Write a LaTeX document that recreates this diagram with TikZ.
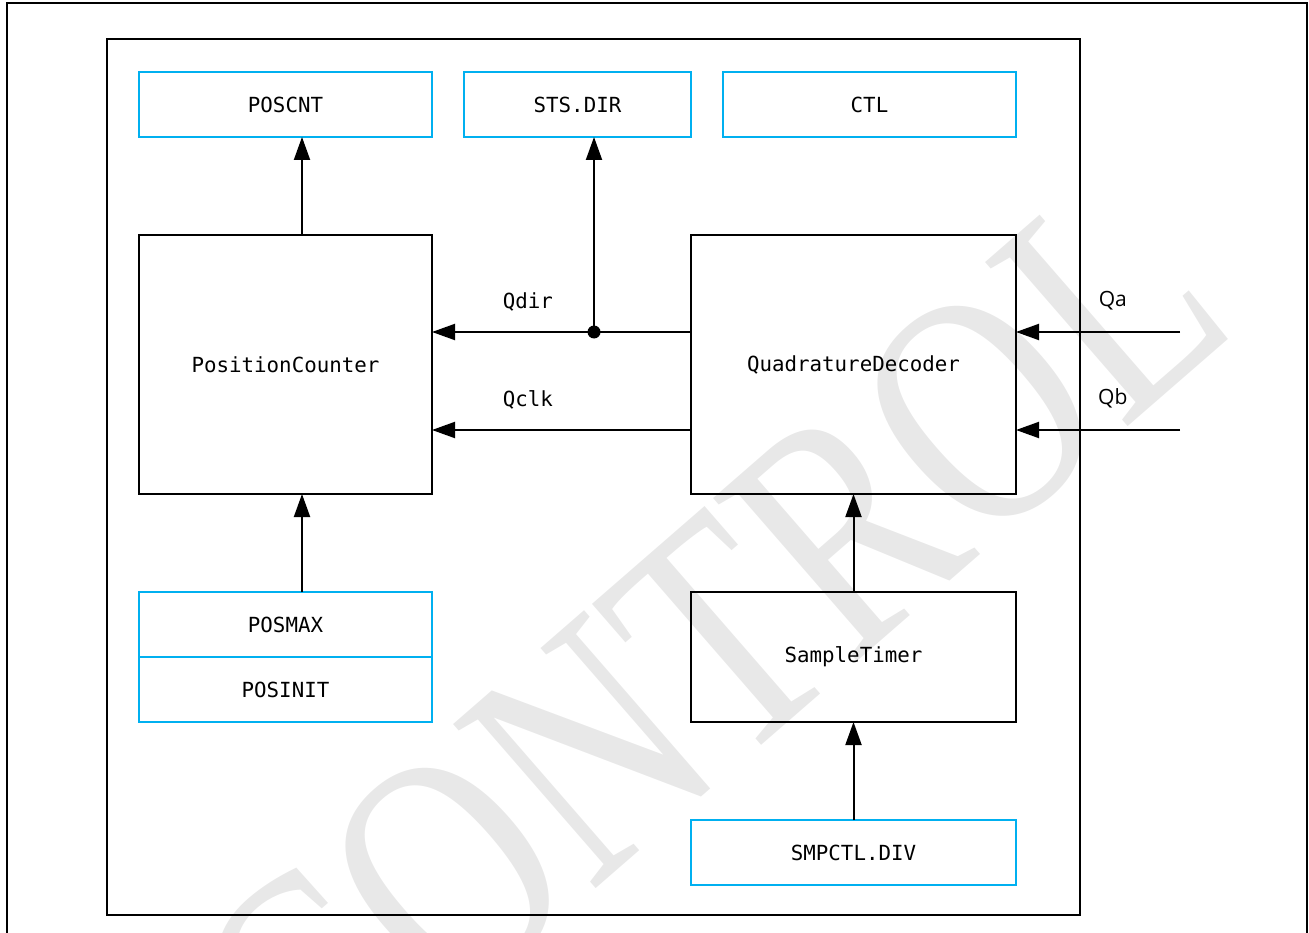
\documentclass[tikz,border=0pt]{standalone}
\usepackage{fontspec}
\setmonofont{DejaVu Sans Mono}
\newfontfamily\sigfont{Open Sans}
\newfontfamily\wmfont[FakeStretch=0.78]{Liberation Serif}
\usetikzlibrary{positioning,arrows.meta}
\definecolor{regblue}{RGB}{0,176,240}
\definecolor{wmgray}{RGB}{232,232,232}

\begin{document}
\begin{tikzpicture}[
  x=1pt, y=-1pt,
  every node/.style={font=\ttfamily\fontsize{20.8}{25}\selectfont, outer sep=0pt},
  blk/.style={draw=black, line width=2pt, inner sep=0pt},
  reg/.style={draw=regblue, line width=2pt, inner sep=0pt, minimum height=65pt},
  arr/.style={-{Triangle[length=23pt, width=16pt]}, line width=2pt, draw=black},
  dotn/.style={circle, fill=black, minimum size=13pt, inner sep=0pt},
  lbl/.style={anchor=base, inner sep=0pt},
  sig/.style={font=\sigfont\fontsize{21}{25}\selectfont},
  wm/.style={font=\wmfont\fontsize{332}{332}\selectfont, text=wmgray, rotate=41, inner sep=0pt}
]
\useasboundingbox (0,0) rectangle (1309,933);

% Watermark
\node[wm] (wmark) at (709,647) {CONTROL};

% Frames
\draw[line width=2.4pt] (7,945) -- (7,3) -- (1307,3) -- (1307,945);
\draw[line width=2pt] (107,39) rectangle (1080,915);

% Top Row: Registers
\node[reg, minimum width=293pt] (poscnt) at (285.5,104.5) {POSCNT};
\node[reg, minimum width=227pt, right=32pt of poscnt] (stsdir) {STS.DIR};
\node[reg, minimum width=293pt, right=32pt of stsdir] (ctl) {CTL};

% Middle Row: Function Blocks
\node[blk, minimum width=293pt, minimum height=259pt, below=98pt of poscnt] (pc) {PositionCounter};
\node[blk, minimum width=325pt, minimum height=259pt, anchor=north east] (qd) at (ctl.south east |- pc.north) {QuadratureDecoder};

% Bottom Rows
\node[reg, minimum width=293pt, below=98pt of pc] (posmax) {POSMAX};
\node[reg, minimum width=293pt, below=0pt of posmax] (posinit) {POSINIT};
\node[blk, minimum width=325pt, minimum height=130pt, below=98pt of qd] (st) {SampleTimer};
\node[reg, minimum width=325pt, below=98pt of st] (smpctl) {SMPCTL.DIV};

% Direction Tap
\node[dotn] (jn) at (594,332) {};

% Register Paths
\draw[arr] ([xshift=16.5pt]pc.north) -- ([xshift=16.5pt]pc.north |- poscnt.south);
\draw[arr] ([xshift=16.5pt]posmax.north) -- ([xshift=16.5pt]posmax.north |- pc.south);
\draw[arr] (jn.center) -- (jn |- stsdir.south);

% Decoder Outputs
\draw[arr] (qd.west |- jn) -- node[lbl, pos=0.63, yshift=23.5pt]{Qdir} (pc.east |- jn);
\draw[arr] ([yshift=-65.5pt]qd.west) -- node[lbl, pos=0.63, yshift=23.5pt]{Qclk} ([yshift=-65.5pt]qd.west -| pc.east);

% Encoder Inputs
\coordinate (qa) at (1180,332);
\coordinate (qb) at (1180,430);
\draw[arr] (qa) -- node[lbl, sig, pos=0.41, yshift=25pt]{Qa} (qa -| qd.east);
\draw[arr] (qb) -- node[lbl, sig, pos=0.41, yshift=26pt]{Qb} (qb -| qd.east);

% Sampling Chain
\draw[arr] (st) -- (qd);
\draw[arr] (smpctl) -- (st);
\end{tikzpicture}
\end{document}
